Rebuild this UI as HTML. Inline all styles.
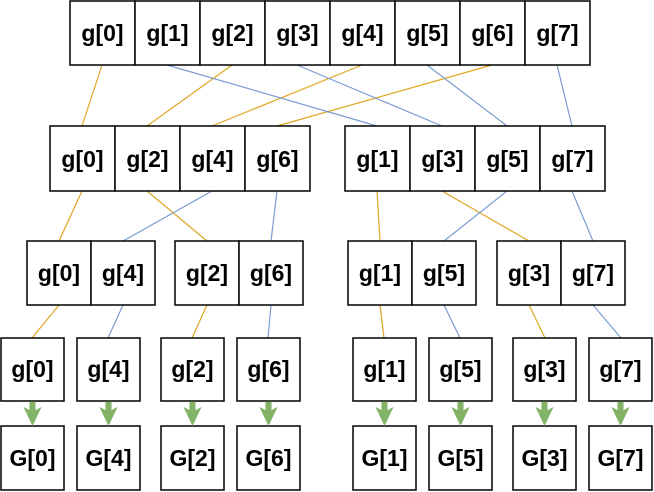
<!DOCTYPE html>
<html><head><meta charset="utf-8"><style>
html,body{margin:0;padding:0;background:#fff;width:654px;height:492px;overflow:hidden}
svg{display:block}
text{font-family:"Liberation Sans",sans-serif;font-weight:bold;font-size:23px;fill:#000;text-anchor:middle;dominant-baseline:central}
.b{fill:#fff;stroke:#000;stroke-width:1.5}
.o{stroke:#e0a522;stroke-width:1.2;fill:none}
.u{stroke:#7b9dd0;stroke-width:1.2;fill:none}
</style></head><body>
<svg width="654" height="492" viewBox="0 0 654 492">
<line class="o" x1="102" y1="65" x2="82" y2="126"/>
<line class="o" x1="232" y1="65" x2="147" y2="126"/>
<line class="o" x1="362" y1="65" x2="212" y2="126"/>
<line class="o" x1="492" y1="65" x2="277" y2="126"/>
<line class="u" x1="167" y1="65" x2="377" y2="126"/>
<line class="u" x1="297" y1="65" x2="442" y2="126"/>
<line class="u" x1="427" y1="65" x2="507" y2="126"/>
<line class="u" x1="557" y1="65" x2="572" y2="126"/>
<line class="o" x1="82" y1="191" x2="59" y2="241"/>
<line class="o" x1="147" y1="191" x2="207" y2="241"/>
<line class="u" x1="212" y1="191" x2="123" y2="241"/>
<line class="u" x1="277" y1="191" x2="271" y2="241"/>
<line class="o" x1="377" y1="191" x2="380" y2="241"/>
<line class="o" x1="442" y1="191" x2="529" y2="241"/>
<line class="u" x1="507" y1="191" x2="444" y2="241"/>
<line class="u" x1="572" y1="191" x2="593" y2="241"/>
<line class="o" x1="59" y1="305" x2="32" y2="338"/>
<line class="u" x1="123" y1="305" x2="108" y2="338"/>
<line class="o" x1="207" y1="305" x2="192" y2="338"/>
<line class="u" x1="271" y1="305" x2="268" y2="338"/>
<line class="o" x1="380" y1="305" x2="384" y2="338"/>
<line class="u" x1="444" y1="305" x2="460" y2="338"/>
<line class="o" x1="529" y1="305" x2="545" y2="338"/>
<line class="u" x1="593" y1="305" x2="621" y2="338"/>
<g>
<rect class="b" x="70" y="1" width="65" height="64"/><text x="102.5" y="33">g[0]</text>
<rect class="b" x="135" y="1" width="65" height="64"/><text x="167.5" y="33">g[1]</text>
<rect class="b" x="200" y="1" width="65" height="64"/><text x="232.5" y="33">g[2]</text>
<rect class="b" x="265" y="1" width="65" height="64"/><text x="297.5" y="33">g[3]</text>
<rect class="b" x="330" y="1" width="65" height="64"/><text x="362.5" y="33">g[4]</text>
<rect class="b" x="395" y="1" width="65" height="64"/><text x="427.5" y="33">g[5]</text>
<rect class="b" x="460" y="1" width="65" height="64"/><text x="492.5" y="33">g[6]</text>
<rect class="b" x="525" y="1" width="65" height="64"/><text x="557.5" y="33">g[7]</text>
</g>
<g>
<rect class="b" x="50" y="126" width="65" height="65"/><text x="82.5" y="159">g[0]</text>
<rect class="b" x="115" y="126" width="65" height="65"/><text x="147.5" y="159">g[2]</text>
<rect class="b" x="180" y="126" width="65" height="65"/><text x="212.5" y="159">g[4]</text>
<rect class="b" x="245" y="126" width="65" height="65"/><text x="277.5" y="159">g[6]</text>
<rect class="b" x="345" y="126" width="65" height="65"/><text x="377.5" y="159">g[1]</text>
<rect class="b" x="410" y="126" width="65" height="65"/><text x="442.5" y="159">g[3]</text>
<rect class="b" x="475" y="126" width="65" height="65"/><text x="507.5" y="159">g[5]</text>
<rect class="b" x="540" y="126" width="65" height="65"/><text x="572.5" y="159">g[7]</text>
</g>
<g>
<rect class="b" x="27" y="241" width="64" height="64"/><text x="59" y="273">g[0]</text>
<rect class="b" x="91" y="241" width="64" height="64"/><text x="123" y="273">g[4]</text>
<rect class="b" x="175" y="241" width="64" height="64"/><text x="207" y="273">g[2]</text>
<rect class="b" x="239" y="241" width="64" height="64"/><text x="271" y="273">g[6]</text>
<rect class="b" x="348" y="241" width="64" height="64"/><text x="380" y="273">g[1]</text>
<rect class="b" x="412" y="241" width="64" height="64"/><text x="444" y="273">g[5]</text>
<rect class="b" x="497" y="241" width="64" height="64"/><text x="529" y="273">g[3]</text>
<rect class="b" x="561" y="241" width="64" height="64"/><text x="593" y="273">g[7]</text>
</g>
<g>
<rect class="b" x="1" y="338" width="63" height="63"/><text x="32.5" y="369">g[0]</text>
<rect class="b" x="77" y="338" width="63" height="63"/><text x="108.5" y="369">g[4]</text>
<rect class="b" x="161" y="338" width="63" height="63"/><text x="192.5" y="369">g[2]</text>
<rect class="b" x="237" y="338" width="63" height="63"/><text x="268.5" y="369">g[6]</text>
<rect class="b" x="353" y="338" width="63" height="63"/><text x="384.5" y="369">g[1]</text>
<rect class="b" x="429" y="338" width="63" height="63"/><text x="460.5" y="369">g[5]</text>
<rect class="b" x="513" y="338" width="63" height="63"/><text x="544.5" y="369">g[3]</text>
<rect class="b" x="589" y="338" width="63" height="63"/><text x="620.5" y="369">g[7]</text>
</g>
<g>
<rect class="b" x="1" y="426" width="63" height="64"/><text x="32.5" y="458">G[0]</text>
<rect class="b" x="77" y="426" width="63" height="64"/><text x="108.5" y="458">G[4]</text>
<rect class="b" x="161" y="426" width="63" height="64"/><text x="192.5" y="458">G[2]</text>
<rect class="b" x="237" y="426" width="63" height="64"/><text x="268.5" y="458">G[6]</text>
<rect class="b" x="353" y="426" width="63" height="64"/><text x="384.5" y="458">G[1]</text>
<rect class="b" x="429" y="426" width="63" height="64"/><text x="460.5" y="458">G[5]</text>
<rect class="b" x="513" y="426" width="63" height="64"/><text x="544.5" y="458">G[3]</text>
<rect class="b" x="589" y="426" width="63" height="64"/><text x="620.5" y="458">G[7]</text>
</g>
<g fill="#82b366" stroke="#82b366" stroke-width="1">
<path d="M30 402h5v9l5.5-3-8 17-8-17 5.5 3z"/>
<path d="M106 402h5v9l5.5-3-8 17-8-17 5.5 3z"/>
<path d="M190 402h5v9l5.5-3-8 17-8-17 5.5 3z"/>
<path d="M266 402h5v9l5.5-3-8 17-8-17 5.5 3z"/>
<path d="M382 402h5v9l5.5-3-8 17-8-17 5.5 3z"/>
<path d="M458 402h5v9l5.5-3-8 17-8-17 5.5 3z"/>
<path d="M542 402h5v9l5.5-3-8 17-8-17 5.5 3z"/>
<path d="M618 402h5v9l5.5-3-8 17-8-17 5.5 3z"/>
</g>
</svg>
</body></html>
